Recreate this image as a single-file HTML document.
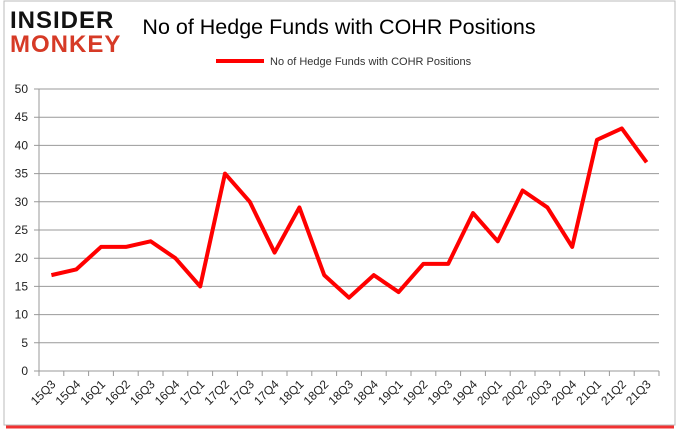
<!DOCTYPE html>
<html><head><meta charset="utf-8"><style>
body{margin:0;background:#fff;font-family:"Liberation Sans",sans-serif;}
#wrap{position:relative;width:678px;height:431px;}
</style></head><body>
<div id="wrap">
<svg id="chart" width="678" height="431">
<rect x="4" y="1" width="671" height="424" fill="#fff" stroke="#bbb"/>
<line x1="6" y1="427" x2="674" y2="427" stroke="#e00" stroke-width="3" opacity="0.8"/>
<text x="10" y="28" font-size="24" font-weight="bold" fill="#111" letter-spacing="1">INSIDER</text>
<text x="10" y="52" font-size="24" font-weight="bold" fill="#d63a26" letter-spacing="1">MONKEY</text>
<text x="339" y="34" font-size="21.5" text-anchor="middle" fill="#000">No of Hedge Funds with COHR Positions</text>
<line x1="216" y1="61" x2="264" y2="61" stroke="#f00" stroke-width="4"/>
<text x="270" y="65" font-size="11" fill="#333">No of Hedge Funds with COHR Positions</text>
<g id="grid"></g><g id="xt"></g><path id="series" fill="none" stroke="#f00" stroke-width="4" stroke-linejoin="round"/>
</svg></div>
<script>
const categories=["15Q3","15Q4","16Q1","16Q2","16Q3","16Q4","17Q1","17Q2","17Q3","17Q4","18Q1","18Q2","18Q3","18Q4","19Q1","19Q2","19Q3","19Q4","20Q1","20Q2","20Q3","20Q4","21Q1","21Q2","21Q3"];
const values=[17,18,22,22,23,20,15,35,30,21,29,17,13,17,14,19,19,28,23,32,29,22,41,43,37];
const yTicks=[0,5,10,15,20,25,30,35,40,45,50];
const L=39,R=659,T=89,B=371;
const bw=(R-L)/categories.length;
const x=i=>L+bw*(i+0.5);
const y=v=>B-(v/50)*(B-T);
const ns="http://www.w3.org/2000/svg";
const g=document.getElementById('grid');
function mk(t,a,p){const e=document.createElementNS(ns,t);for(const k in a)e.setAttribute(k,a[k]);p.appendChild(e);return e;}
yTicks.forEach(v=>{
 const l=mk('line',{x1:L-5,x2:R,y1:y(v),y2:y(v),stroke:'#999'},g);
 
 
 const t=mk('text',{x:L-11,y:y(v)+4,'font-size':12,'text-anchor':'end',fill:'#222'},g);t.textContent=v;
 
 
});
const ax=mk('line',{x1:L,x2:L,y1:T,y2:B+5,stroke:'#999'},g);


const xt=document.getElementById('xt');
categories.forEach((c,i)=>{
 const tk=mk('line',{x1:L+bw*i,x2:L+bw*i,y1:B,y2:B+5,stroke:'#999'},xt);
 
 
 const t=mk('text',{x:x(i)+5,y:B+14,'font-size':12,'text-anchor':'end',fill:'#222',transform:`rotate(-45 ${x(i)+5} ${B+14})`},xt);t.textContent=c;
 
 
});
const tl=mk('line',{x1:R,x2:R,y1:B,y2:B+5,stroke:'#999'},xt);


const s=document.getElementById('series');
s.setAttribute('d',values.map((v,i)=>(i?'L':'M')+x(i)+' '+y(v)).join(' '));


</script>
</body></html>
